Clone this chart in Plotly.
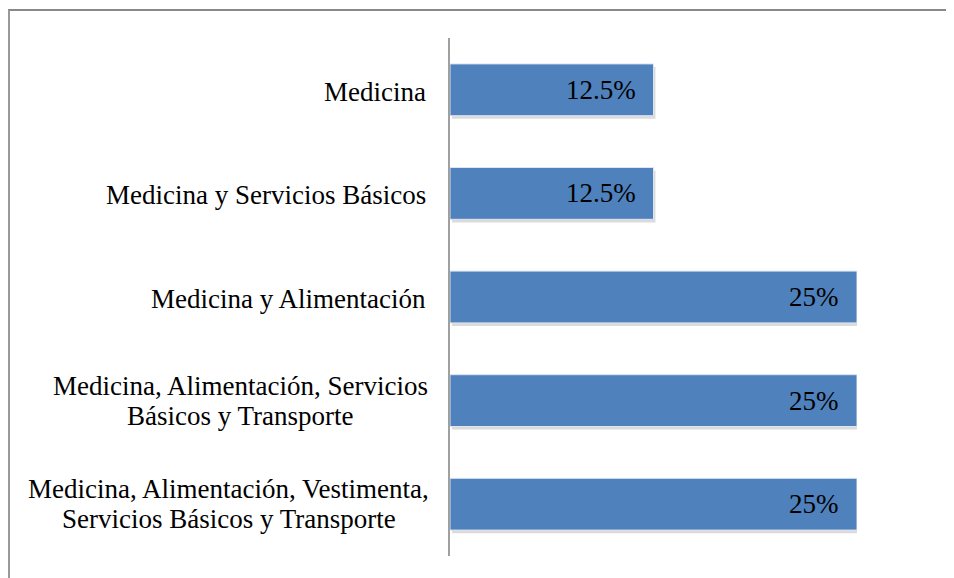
import plotly.graph_objects as go

categories = [
    "Medicina",
    "Medicina y Servicios Básicos",
    "Medicina y Alimentación",
    "Medicina, Alimentación, Servicios<br>Básicos y Transporte",
    "Medicina, Alimentación, Vestimenta,<br>Servicios Básicos y Transporte",
]
values = [12.5, 12.5, 25, 25, 25]
value_labels = ["12.5%", "12.5%", "25%", "25%", "25%"]

W, H = 954, 578
OFF = 8  # page body margin
FONT = "Liberation Serif, Times New Roman, serif"
FS = 27
AXIS_X = 450
LABEL_RIGHT = 428
# approximate pixel width of the widest line of each multi-line label
BLOCK_W = {3: 375, 4: 399}

def px(x):
    return (x - OFF) / W

def py(y):
    return 1 - (y - OFF) / H

fig = go.Figure()

# shadow
fig.add_trace(go.Bar(
    y=categories, x=values, orientation="h",
    base=[0.12] * len(values),
    width=0.5, offset=-0.22,
    marker=dict(color="rgba(0,0,0,0.14)", line=dict(width=0)),
    hoverinfo="skip", showlegend=False,
))
fig.add_trace(go.Bar(
    y=categories, x=values, orientation="h",
    width=0.5, offset=-0.25,
    marker=dict(color="#4F81BD", line=dict(color="#DCE6F2", width=1)),
    showlegend=False,
))

annotations = []
for k, (c, v, t) in enumerate(zip(categories, values, value_labels)):
    annotations.append(dict(
        x=v, y=c, xref="x", yref="y", text=t, showarrow=False,
        xanchor="right", xshift=-16, font=dict(family=FONT, size=FS, color="black"),
    ))
    lines = c.split("<br>")
    n = len(lines)
    for i, ln in enumerate(lines):
        if n == 1:
            xa, xs = "right", LABEL_RIGHT - AXIS_X
        else:
            xa, xs = "center", LABEL_RIGHT - BLOCK_W[k] / 2 - AXIS_X
        annotations.append(dict(
            x=0, y=c, xref="x", yref="y", text=ln, showarrow=False,
            xanchor=xa, xshift=xs,
            yshift=((n - 1) / 2 - i) * 30 - (2 if n == 1 else 0),
            font=dict(family=FONT, size=FS, color="black"),
        ))

fig.update_layout(
    width=W, height=H,
    margin=dict(l=0, r=0, t=0, b=0),
    plot_bgcolor="white", paper_bgcolor="white",
    barmode="overlay",
    font=dict(family=FONT, size=FS, color="black"),
    xaxis=dict(range=[0, 25], domain=[px(AXIS_X), px(857)], visible=False),
    yaxis=dict(
        autorange="reversed", domain=[py(556), py(38)],
        showticklabels=False, ticks="", showgrid=False,
        showline=True, linecolor="#A0A0A0", linewidth=2, zeroline=False,
    ),
    annotations=annotations,
    shapes=[
        dict(type="line", xref="paper", yref="paper",
             x0=px(8), x1=px(953), y0=py(10), y1=py(10),
             line=dict(color="#888888", width=2)),
        dict(type="line", xref="paper", yref="paper",
             x0=px(9), x1=px(9), y0=py(10), y1=-0.05,
             line=dict(color="#999999", width=2)),
    ],
)

fig.write_html("out.html")
